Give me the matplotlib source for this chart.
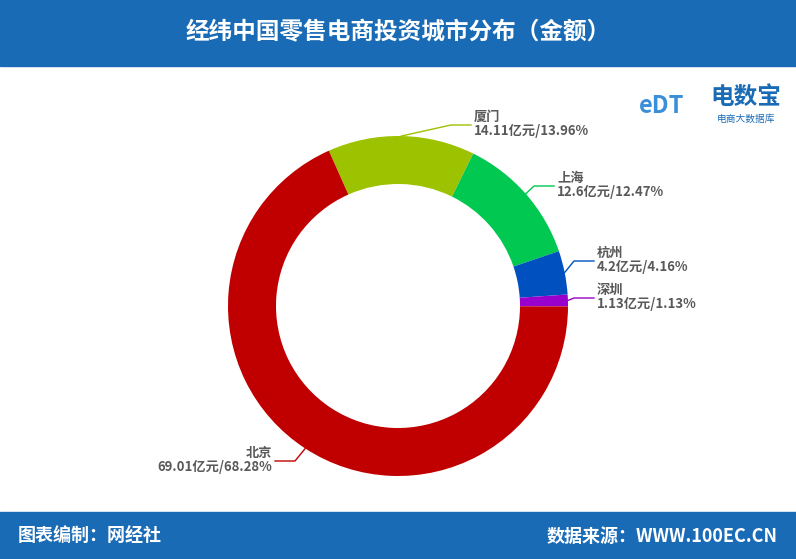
import numpy as np
import matplotlib
matplotlib.use("Agg")
import matplotlib.pyplot as plt
from matplotlib.patches import Rectangle

plt.rcParams['font.family'] = ['Noto Sans CJK SC', 'DejaVu Sans']

cities = ["厦门", "上海", "杭州", "深圳", "北京"]
amounts = [14.11, 12.6, 4.2, 1.13, 69.01]
shares = ["13.96%", "12.47%", "4.16%", "1.13%", "68.28%"]
colors = ["#9dc300", "#00c850", "#0050c0", "#9900cc", "#c00000"]

W, H = 796, 559
fig = plt.figure(figsize=(W / 100, H / 100), dpi=100)
ax = fig.add_axes([0, 0, 1, 1])
ax.set_xlim(0, W)
ax.set_ylim(0, H)
ax.axis("off")

blue = "#1a6bb5"
ax.add_patch(Rectangle((0, H - 66), W, 66, color=blue))
ax.add_patch(Rectangle((0, 0), W, 47, color=blue))
ax.text(W / 2, H - 32, "经纬中国零售电商投资城市分布（金额）", color="white",
        fontsize=17, fontweight="bold", ha="center", va="center")
ax.text(18, 23, "图表编制：网经社", color="white", fontsize=13, fontweight="bold", va="center")
ax.text(778, 23, "数据来源：WWW.100EC.CN", color="white", fontsize=13,
        fontweight="bold", va="center", ha="right")

# logo
ax.text(662, 453, "eDT", color="#3a8fd8", fontsize=17, fontweight="bold",
        ha="center", va="center", style="italic")
ax.text(746, 462, "电数宝", color="#1a6bb5", fontsize=17, fontweight="bold", ha="center", va="center")
ax.text(746, 440, "电商大数据库", color="#1a6bb5", fontsize=7, ha="center", va="center")

cx, cy, r = 398, 253, 170
wedges, _ = ax.pie(amounts, colors=colors, startangle=114, counterclock=False,
                   center=(cx, cy), radius=r, wedgeprops=dict(width=48, linewidth=0),
                   frame=True)
ax.set_xlim(0, W)
ax.set_ylim(0, H)
ax.set_aspect("equal")
ax.axis("off")

# label text anchors (pixel coords, y up)
label_pos = [(474, 434), (557, 373), (597, 298), (597, 261), (272, 98)]
for w, city, amt, sh, col, (tx, ty) in zip(wedges, cities, amounts, shares, colors, label_pos):
    ang = np.deg2rad((w.theta1 + w.theta2) / 2)
    sx, sy = cx + r * np.cos(ang), cy + r * np.sin(ang)
    right = tx > cx
    ex = tx - 3 if right else tx + 3
    mx = ex - 20 if right else ex + 20
    ax.plot([sx, mx, ex], [sy, ty, ty], color=col, lw=1)
    ha = "left" if right else "right"
    ax.text(tx, ty + 1, city, fontsize=9.5, color="#595959", fontweight="bold", ha=ha, va="bottom")
    ax.text(tx, ty + 1, f"{amt:g}亿元/{sh}", fontsize=9.5, color="#595959",
            fontweight="bold", ha=ha, va="top")

fig.savefig("out.png", dpi=100)
